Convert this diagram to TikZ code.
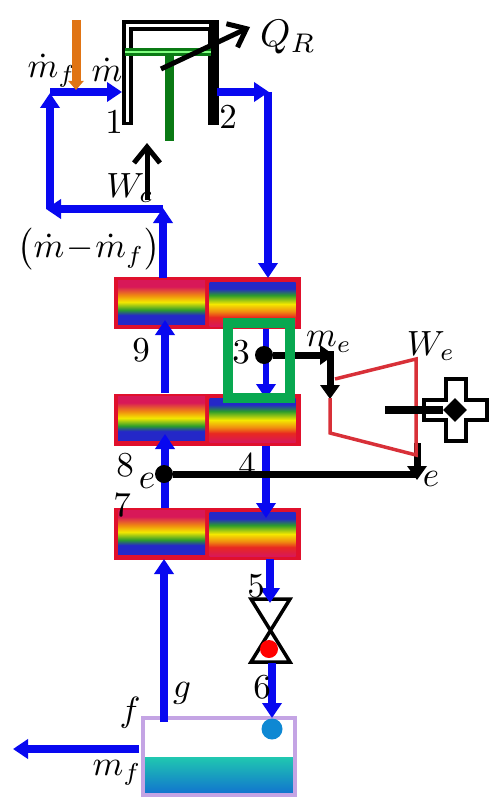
\documentclass[tikz,border=0pt]{standalone}
\usepackage{amsmath}
\usepackage{xcolor}
\usetikzlibrary{arrows.meta,shapes.geometric}
\definecolor{pipeblue}{HTML}{0808F0}
\definecolor{hxred}{HTML}{E0102C}
\definecolor{coilgreen}{HTML}{0A7A14}
\definecolor{boxgreen}{HTML}{08A850}
\definecolor{feedorange}{HTML}{E07414}
\definecolor{turbred}{HTML}{D83038}
\definecolor{tankrim}{HTML}{C4A4E4}
\definecolor{rbcrimson}{HTML}{D81858}
\definecolor{rbred}{HTML}{E82820}
\definecolor{rborange}{HTML}{F08C10}
\definecolor{rbyellow}{HTML}{F4E800}
\definecolor{rbgreen}{HTML}{2C9C2C}
\definecolor{rbblue}{HTML}{2428C8}
\definecolor{watertop}{HTML}{20C8B0}
\definecolor{waterlow}{HTML}{1070D0}
\pgfdeclareverticalshading{rainbowhot}{100bp}{color(0bp)=(rbblue);color(25bp)=(rbblue);color(35bp)=(rbblue);color(41bp)=(rbgreen);color(50bp)=(rbyellow);color(57.5bp)=(rborange);color(67.5bp)=(rbcrimson);color(75bp)=(rbcrimson);color(100bp)=(rbcrimson)}
\pgfdeclareverticalshading{rainbowcold}{100bp}{color(0bp)=(rbcrimson);color(25bp)=(rbcrimson);color(35bp)=(rbred);color(41.5bp)=(rborange);color(50bp)=(rbyellow);color(60bp)=(rbgreen);color(67.5bp)=(rbblue);color(75bp)=(rbblue);color(100bp)=(rbblue)}
\pgfdeclareverticalshading{tankwater}{100bp}{color(0bp)=(waterlow);color(25bp)=(waterlow);color(75bp)=(watertop);color(100bp)=(watertop)}
\tikzset{hxbox/.style={shape=rectangle,fill=hxred,minimum width=187,minimum height=52,inner sep=0},
	hxhot/.style={shape=rectangle,shading=rainbowhot,minimum width=87,minimum height=44,inner sep=0},
	hxcold/.style={shape=rectangle,shading=rainbowcold,minimum width=86,minimum height=44,inner sep=0},
	lbl/.style={inner sep=0,scale=3.5},
	pipe/.style={color=pipeblue,line width=7.5,>={Triangle[length=15pt,width=19pt]}},
	shaft/.style={color=black,line width=7,>={Triangle[length=14pt,width=19pt]}},
	barb/.style={color=black,line width=5,>={Straight Barb[length=16pt,width=26pt,line width=5pt]}},
	junction/.style={shape=circle,fill=black,minimum size=18,inner sep=0}}

\begin{document}
\begin{tikzpicture}[x=1pt,y=-1pt]
	\useasboundingbox (0,0) rectangle (492,797);
	% heat exchangers
	\node[hxbox] (A) at (207,303) {};
	\node[hxbox] (B) at (207,419.5) {};
	\node[hxbox] (C) at (207,533.5) {};
	\node[hxhot] (A1) at (161.5,302) {};
	\node[hxhot] (B1) at (161.5,418) {};
	\node[hxhot] (C1) at (161.5,532) {};
	\node[hxcold] (A2) at (252.5,304) {};
	\node[hxcold] (B2) at (252.5,420) {};
	\node[hxcold] (C2) at (252.5,534) {};
	%
	% tank
	\node[shape=rectangle,shading=tankwater,minimum width=150,minimum height=38,inner sep=0] (water) at (219,776) {};
	\node[shape=rectangle,draw=tankrim,line width=4,minimum width=152,minimum height=77,inner sep=0] (tank) at (219,756.5) {};
	\node[shape=circle,fill=cyan!70!blue,minimum size=21,inner sep=0] (drop) at (272,729) {};
	%
	% valve
	\coordinate (v1) at (251,599);
	\coordinate (v2) at (290,599);
	\coordinate (v3) at (251,662);
	\coordinate (v4) at (290,662);
	\draw[line width=3.5,line join=miter] (v1) -- (v2) -- (v3) -- (v4) -- cycle;
	\node[shape=circle,fill=red,minimum size=18,inner sep=0] (plug) at (269,649) {};
	%
	% compressor
	\coordinate (c1) at (127.5,125);
	\coordinate (c2) at (127.5,26);
	\coordinate (c3) at (213,26);
	\coordinate (c4) at (213,125);
	\draw[line width=11,line join=miter] (c1) -- (c2) -- (c3) -- (c4);
	\draw[white,line width=3,line join=miter] (127.5,122) -- (c2) -- (209,26);
	\coordinate (g1) at (125,52);
	\coordinate (g2) at (211,52);
	\coordinate (g3) at (169,55);
	\coordinate (g4) at (169,141);
	\draw[coilgreen,line width=8] (g1) -- (g2);
	\draw[green!50!white,line width=2] (g1) -- (g2);
	\draw[coilgreen,line width=9] (g3) -- (g4);
	%
	% blue lines
	\path[pipe]
	(164,722) edge[->] (164,559)
	(165,508) edge[->] (165,434)
	(165,393) edge[->] (165,320)
	(163,278) edge[->] (163,208)
	(163,209) edge[->] (46,209)
	(50,209) edge[->] (50,93)
	(50,92) edge[->] (122,92)
	(217,92) edge[->] (269,92)
	(268,92) edge[->] (268,278)
	(266,446) edge[->] (266,518)
	(270,559) edge[->] (270,603)
	(272,663) edge[->] (272,718)
	(139,749) edge[->] (13,749);
	\path[pipe,line width=6] (266,329) edge[->] (266,399);
	%
	% black lines
	\node[junction] (j1) at (264,355) {};
	\node[junction] (j2) at (164,474) {};
	\coordinate (t0) at (334,355);
	\coordinate (t1) at (330,351);
	\coordinate (t2) at (330,399);
	\coordinate (t3) at (417,443);
	\coordinate (t4) at (417,480);
	\coordinate (t5) at (417,474);
	\path[shaft]
	(j1) edge[->] (t0)
	(t1) edge[->] (t2)
	(t3) edge[->] (t4);
	\draw[black,line width=7] (t5) -- (j2);
	\path[barb]
	(161,69) edge[->] (250,27)
	(147,200) edge[->] (147,143);
	%
	% green box
	\node[shape=rectangle,draw=boxgreen,line width=10,minimum width=62,minimum height=75,inner sep=0] (box) at (259,360.5) {};
	%
	% turbine
	\coordinate (r1) at (335,379);
	\coordinate (r2) at (416,359);
	\coordinate (r3) at (416,455);
	\coordinate (r4) at (330,433);
	\coordinate (r5) at (330,398);
	\draw[turbred,line width=3.5,line join=miter] (r1) -- (r2) -- (r3) -- (r4) -- (r5);
	%
	% generator
	\coordinate (x1) at (446,379);
	\coordinate (x2) at (466,379);
	\coordinate (x3) at (466,400);
	\coordinate (x4) at (487,400);
	\coordinate (x5) at (487,420);
	\coordinate (x6) at (466,420);
	\coordinate (x7) at (466,441);
	\coordinate (x8) at (446,441);
	\coordinate (x9) at (446,420);
	\coordinate (x10) at (424,420);
	\coordinate (x11) at (424,400);
	\coordinate (x12) at (446,400);
	\draw[line width=3.5,fill=white] (x1) -- (x2) -- (x3) -- (x4) -- (x5) -- (x6) -- (x7) -- (x8) -- (x9) -- (x10) -- (x11) -- (x12) -- cycle;
	\node[shape=diamond,fill=black,minimum size=24,inner sep=0] (gen) at (455,410) {};
	\coordinate (s1) at (385,410);
	\draw[black,line width=8] (s1) -- (gen);
	%
	% labels
	\node[lbl] (mf1) at (52,71) {$\dot m_{f}$};
	\node[lbl] (m1) at (107,70) {$\dot m$};
	\node[lbl] (n1) at (114,122) {$1$};
	\node[lbl] (n2) at (228,117) {$2$};
	\node[lbl,scale=1.1] (QR) at (288,37) {$Q_R$};
	\node[lbl] (Wc) at (130,188) {$W_c$};
	\node[lbl] (mm) at (89,249) {$\bigl(\dot m\!-\!\dot m_f\bigr)$};
	\node[lbl] (n9) at (141,350) {$9$};
	\node[lbl] (n3) at (241,352) {$3$};
	\node[lbl] (me) at (329,342) {$m_e$};
	\node[lbl] (We) at (431,346) {$W_e$};
	\node[lbl] (n8) at (125,465) {$8$};
	\node[lbl] (e1) at (147,481) {$e$};
	\node[lbl] (n7) at (122,505) {$7$};
	\node[lbl] (n4) at (247,465) {$4$};
	\node[lbl] (e2) at (431,479) {$e$};
	\node[lbl] (n5) at (256,586) {$5$};
	\node[lbl] (n6) at (262,687) {$6$};
	\node[lbl] (lg) at (182,693) {$g$};
	\node[lbl] (lf) at (130,713) {$f$};
	\node[lbl] (mf2) at (117,773) {$m_f$};
	%
	\draw[feedorange,line width=9,-{Triangle[length=9pt,width=15pt]}] (76,20) -- (76,90);
\end{tikzpicture}
\end{document}
